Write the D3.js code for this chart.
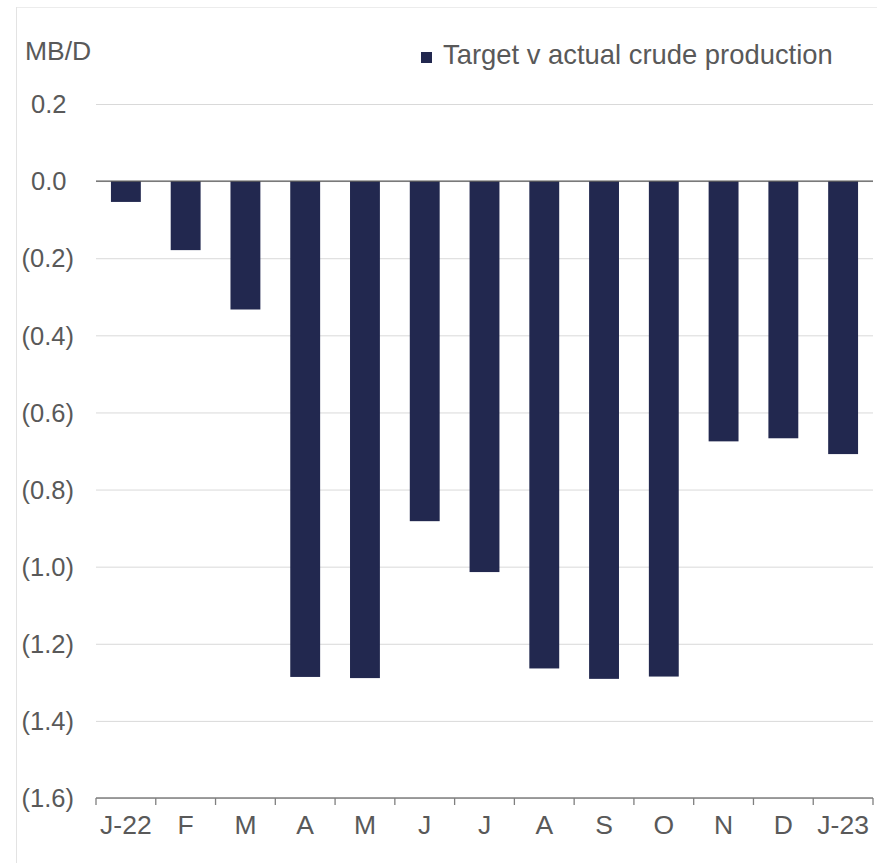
<!DOCTYPE html>
<style>
	body { margin: 0; background: #fff; }
	text { font-family: "Liberation Sans", Arial, sans-serif; fill: #595959; }
	.grid line { stroke: #d9d9d9; stroke-width: 1px; }
	.grid path { display: none; }
	.xaxis path, .xaxis line { stroke: #7f7f7f; stroke-width: 1.3px; }
	.bar { fill: #22284f; }
</style>
<head>
	<script src="https://d3js.org/d3.v7.min.js"></script>
</head>
<body>
	<svg width="877" height="863"></svg>
</body>
<script>
var months = ["J-22", "F", "M", "A", "M", "J", "J", "A", "S", "O", "N", "D", "J-23"];
var gap = [-0.054, -0.179, -0.333, -1.286, -1.289, -0.882, -1.014, -1.264, -1.291, -1.285, -0.675, -0.667, -0.708];
var yTicks = [0.2, 0.0, -0.2, -0.4, -0.6, -0.8, -1.0, -1.2, -1.4, -1.6];
var seriesName = "Target v actual crude production";
var unit = "MB/D";

var svg = d3.select("svg");

// faint frame at top / left
svg.append("line").attr("x1", 16).attr("x2", 877).attr("y1", 7.5).attr("y2", 7.5).attr("stroke", "#ececec");
svg.append("line").attr("x1", 16.5).attr("x2", 16.5).attr("y1", 7).attr("y2", 863).attr("stroke", "#e3e3e3");

var x = d3.scaleBand().domain(d3.range(months.length)).range([96, 873]).paddingInner(0.5).paddingOuter(0.25);
var xb = d3.scaleBand().domain(d3.range(months.length)).range([96, 873]);
var y = d3.scaleLinear().domain([-1.6, 0.2]).range([798, 104]);

// gridlines
svg.append("g").attr("class", "grid")
	.attr("transform", "translate(96,0)")
	.call(d3.axisLeft(y).tickValues(yTicks).tickSize(-777).tickFormat(""));

// y tick labels, accounting style
var fmt = d3.format(".1f");
svg.append("g").selectAll("text")
	.data(yTicks)
	.enter().append("text")
	.attr("x", function(d) { return d < 0 ? 74 : 66.5; })
	.attr("y", function(d) { return y(d); })
	.attr("dy", "0.36em")
	.attr("text-anchor", "end")
	.style("font-size", "25.5px")
	.text(function(d) { return d < 0 ? "(" + fmt(-d) + ")" : fmt(d); });

svg.append("text").attr("x", 25).attr("y", 60).style("font-size", "26.5px").text(unit);

// bars
svg.append("g").selectAll("rect")
	.data(gap)
	.enter().append("rect")
	.attr("class", "bar")
	.attr("x", function(d, i) { return x(i); })
	.attr("width", x.bandwidth())
	.attr("y", function(d) { return y(Math.max(0, d)); })
	.attr("height", function(d) { return Math.abs(y(d) - y(0)); });

// zero line
svg.append("line").attr("x1", 96).attr("x2", 873)
	.attr("y1", y(0)).attr("y2", y(0))
	.attr("stroke", "#595959").attr("stroke-width", 1.3);

// x axis with ticks between categories
var xa = svg.append("g").attr("class", "xaxis").attr("transform", "translate(0," + y(-1.6) + ")");
xa.append("line").attr("x1", 96).attr("x2", 873).attr("y1", 0).attr("y2", 0);
xa.selectAll(".tk")
	.data(d3.range(months.length + 1))
	.enter().append("line")
	.attr("x1", function(d) { return 96 + d * xb.step(); })
	.attr("x2", function(d) { return 96 + d * xb.step(); })
	.attr("y1", 0).attr("y2", 7);
xa.selectAll("text")
	.data(months)
	.enter().append("text")
	.attr("x", function(d, i) { return xb(i) + xb.bandwidth() / 2; })
	.attr("y", 36)
	.attr("text-anchor", "middle")
	.style("font-size", "26.5px")
	.text(function(d) { return d; });

// legend
svg.append("rect").attr("class", "bar").attr("x", 421).attr("y", 52).attr("width", 11).attr("height", 11);
svg.append("text").attr("x", 443).attr("y", 64).style("font-size", "27.4px").text(seriesName);
</script>
